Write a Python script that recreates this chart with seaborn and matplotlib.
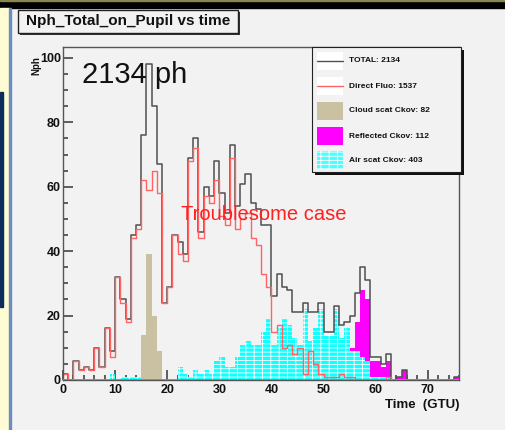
import numpy as np
import pandas as pd
import matplotlib
matplotlib.use("Agg")
import matplotlib.pyplot as plt
import seaborn as sns
from matplotlib.patches import Rectangle
from matplotlib.lines import Line2D

sns.set_theme(style="white")
plt.rcParams['font.family'] = ['Liberation Sans', 'DejaVu Sans']
plt.rcParams['hatch.linewidth'] = 0.6

# ---- data: counts per 1-GTU bin, time 0..75 ----
time_bins = list(range(0, 76))
direct_fluo = [2, 0, 6, 3, 4, 3, 10, 4, 16, 7,
               32, 24, 18, 44, 47, 62, 59, 65, 58, 24,
               29, 45, 39, 37, 68, 72, 44, 57, 55, 62,
               51, 48, 69, 47, 50, 52, 44, 42, 33, 29,
               15, 17, 10, 11, 8, 10, 2, 9, 5, 2,
               1, 1, 1, 2, 1, 1, 0, 0, 0, 0,
               0, 0, 1, 0, 0, 0, 0, 0, 0, 0,
               0, 0, 0, 0, 0, 0]
cloud_scat = [0] * 15 + [14, 39, 20, 9] + [0] * 57
reflected = [0] * 53 + [2, 1, 10, 18, 28, 25, 6, 6, 4, 6, 0, 1, 3] + [0] * 9 + [1]
air_scat = [0, 0, 0, 0, 0, 0, 0, 0, 0, 2,
            0, 1, 1, 1, 1, 0, 0, 0, 0, 0,
            0, 0, 4, 2, 1, 3, 2, 3, 2, 6,
            7, 4, 4, 7, 11, 12, 11, 11, 15, 19,
            11, 16, 19, 17, 13, 11, 22, 12, 16, 22,
            14, 14, 22, 13, 16, 9, 9, 7, 6, 1,
            1, 1, 1, 0, 0, 0, 0, 0, 0, 0,
            0, 0, 0, 0, 0, 0]
total = [2, 0, 6, 3, 4, 3, 10, 4, 16, 9,
         32, 25, 19, 45, 48, 76, 98, 85, 67, 24,
         29, 45, 43, 39, 69, 75, 46, 60, 57, 68,
         58, 52, 73, 54, 61, 64, 55, 53, 48, 48,
         26, 33, 29, 28, 21, 21, 24, 21, 21, 24,
         15, 15, 23, 17, 18, 20, 27, 35, 31, 7,
         7, 5, 8, 0, 1, 3, 0, 0, 0, 0,
         0, 0, 0, 0, 0, 1]
legend_labels = ["TOTAL: 2134", "Direct Fluo: 1537", "Cloud scat Ckov: 82",
                 "Reflected Ckov: 112", "Air scat Ckov: 403"]

df = pd.DataFrame({"t": np.array(time_bins, dtype=float) + 0.5,
                   "total": np.array(total, dtype=float),
                   "fluo": np.array(direct_fluo, dtype=float),
                   "cloud": np.array(cloud_scat, dtype=float),
                   "refl": np.array(reflected, dtype=float),
                   "air": np.array(air_scat, dtype=float)})
hist_kw = dict(binwidth=1, binrange=(0, 76))

W, H = 506, 430
fig = plt.figure(figsize=(W / 100, H / 100), dpi=100)
fig.patch.set_facecolor('#f2f2f2')

def fx(px):
    return px / W

def fy(py):
    return 1 - py / H

# screenshot decorations
fig.patches.append(Rectangle((0, fy(8)), 1, 8 / H, transform=fig.transFigure,
                             color='black', zorder=0))
fig.patches.append(Rectangle((0, fy(1)), 1, 1 / H, transform=fig.transFigure,
                             color='#8a8650', zorder=0))
fig.patches.append(Rectangle((0, 0), fx(9), fy(8), transform=fig.transFigure,
                             color='#fffbd2', zorder=0))
fig.patches.append(Rectangle((0, fy(307)), fx(3.5), (307 - 92) / H,
                             transform=fig.transFigure, color='#0b2d5e', zorder=0))
fig.patches.append(Rectangle((fx(9), 0), fx(1.5), fy(8), transform=fig.transFigure,
                             color='#6d8cc0', zorder=0))

ax = fig.add_axes([fx(63), fy(380), (459 - 63) / W, (380 - 47) / H])
ax.set_facecolor('#f2f2f2')

sns.histplot(data=df, x="t", weights="cloud", element="step",
             fill=True, color='#c9c1a1', alpha=1, linewidth=0, ax=ax, **hist_kw)
sns.histplot(data=df, x="t", weights="refl", element="step",
             fill=True, color='#ff00ff', alpha=1, linewidth=0, ax=ax, **hist_kw)
sns.histplot(data=df, x="t", weights="air", element="bars",
             fill=True, facecolor='#10ffff', edgecolor='white', alpha=0.75,
             linewidth=0, hatch='----||', ax=ax, **hist_kw)
sns.histplot(data=df, x="t", weights="total", element="step",
             fill=False, color='#505050', linewidth=1.1, ax=ax, **hist_kw)
sns.histplot(data=df, x="t", weights="fluo", element="step",
             fill=False, color='#ff6464', linewidth=1.0, ax=ax, **hist_kw)
ax.axhline(0, color='#33cc33', lw=2, zorder=5)

ax.set_xlim(0, 76)
ax.set_ylim(0, 103.4)
ax.set_xlabel('')
ax.set_ylabel('')
ax.set_xticks(range(0, 71, 10))
ax.set_xticks(range(0, 77, 2), minor=True)
ax.set_yticks(range(0, 101, 20))
ax.set_yticks(range(0, 101, 5), minor=True)
ax.tick_params(which='both', direction='in', top=False, right=False,
               bottom=True, left=True, color='#444444', width=1.2)
ax.tick_params(which='major', length=7.5)
ax.tick_params(which='minor', length=3.8)
ax.tick_params(axis='x', which='major', pad=3.0)
ax.tick_params(axis='y', which='major', pad=1.5)
for lab in ax.get_xticklabels() + ax.get_yticklabels():
    lab.set_fontweight('bold')
    lab.set_fontsize(9)
    lab.set_color('#111111')
for s in ax.spines.values():
    s.set_color('#555555')
    s.set_linewidth(1.0)

# texts
fig.text(fx(36), fy(66), 'Nph', rotation=90, ha='center', va='center',
         fontsize=7, fontweight='bold', color='#111111')
fig.text(fx(460), fy(405), 'Time  (GTU)', ha='right', va='center',
         fontsize=9.5, fontweight='bold', color='#111111')
fig.text(fx(82), fy(75), '2134 ph', ha='left', va='center', fontsize=21,
         color='#111111')
fig.text(fx(181), fy(215), 'Troublesome case', ha='left', va='center',
         fontsize=14.5, color='#ff2020')

# title box
fig.patches.append(Rectangle((fx(20), fy(35)), (238 - 18) / W, (33 - 10) / H,
                             transform=fig.transFigure, facecolor='#333333',
                             edgecolor='none', zorder=3))
fig.patches.append(Rectangle((fx(18), fy(33)), (238 - 18) / W, (33 - 10) / H,
                             transform=fig.transFigure, facecolor='#f2f2f2',
                             edgecolor='#222222', lw=1, zorder=4))
fig.text(fx(128), fy(21.5), 'Nph_Total_on_Pupil vs time', ha='center',
         va='center', fontsize=11, fontweight='bold',
         color='#111111', zorder=5)

# legend box
lx0, ly0, lx1, ly1 = 312, 47, 461, 172
fig.patches.append(Rectangle((fx(lx0 + 3), fy(ly1 + 3)), (lx1 - lx0) / W,
                             (ly1 - ly0) / H, transform=fig.transFigure,
                             facecolor='#111111', edgecolor='none', zorder=6))
fig.patches.append(Rectangle((fx(lx0), fy(ly1)), (lx1 - lx0) / W, (ly1 - ly0) / H,
                             transform=fig.transFigure, facecolor='#f2f2f2',
                             edgecolor='#222222', lw=0.8, zorder=7))
rows = [61, 86, 111, 136, 160]
sx0, sx1 = 317, 343
for i, (yy, lab) in enumerate(zip(rows, legend_labels)):
    if i == 0 or i == 1:
        fig.patches.append(Rectangle((fx(sx0), fy(yy + 9)), (sx1 - sx0) / W, 18 / H,
                                     transform=fig.transFigure, facecolor='white',
                                     edgecolor='none', zorder=8))
        fig.lines.append(Line2D([fx(sx0), fx(sx1)], [fy(yy), fy(yy)],
                                transform=fig.transFigure,
                                color='#505050' if i == 0 else '#ff6464',
                                lw=1.0, zorder=9))
    elif i == 2:
        fig.patches.append(Rectangle((fx(sx0), fy(yy + 9)), (sx1 - sx0) / W, 18 / H,
                                     transform=fig.transFigure, facecolor='#c9c1a1',
                                     edgecolor='none', zorder=8))
    elif i == 3:
        fig.patches.append(Rectangle((fx(sx0), fy(yy + 9)), (sx1 - sx0) / W, 18 / H,
                                     transform=fig.transFigure, facecolor='#ff00ff',
                                     edgecolor='none', zorder=8))
    else:
        fig.patches.append(Rectangle((fx(sx0), fy(yy + 9)), (sx1 - sx0) / W, 18 / H,
                                     transform=fig.transFigure, facecolor='#4cffff',
                                     edgecolor='white', lw=0, hatch='----||',
                                     zorder=8))
    fig.text(fx(349), fy(yy), lab, ha='left', va='center', fontsize=6,
             fontweight='bold', color='#111111', zorder=9)

fig.savefig('out.png', dpi=100, facecolor=fig.get_facecolor())
